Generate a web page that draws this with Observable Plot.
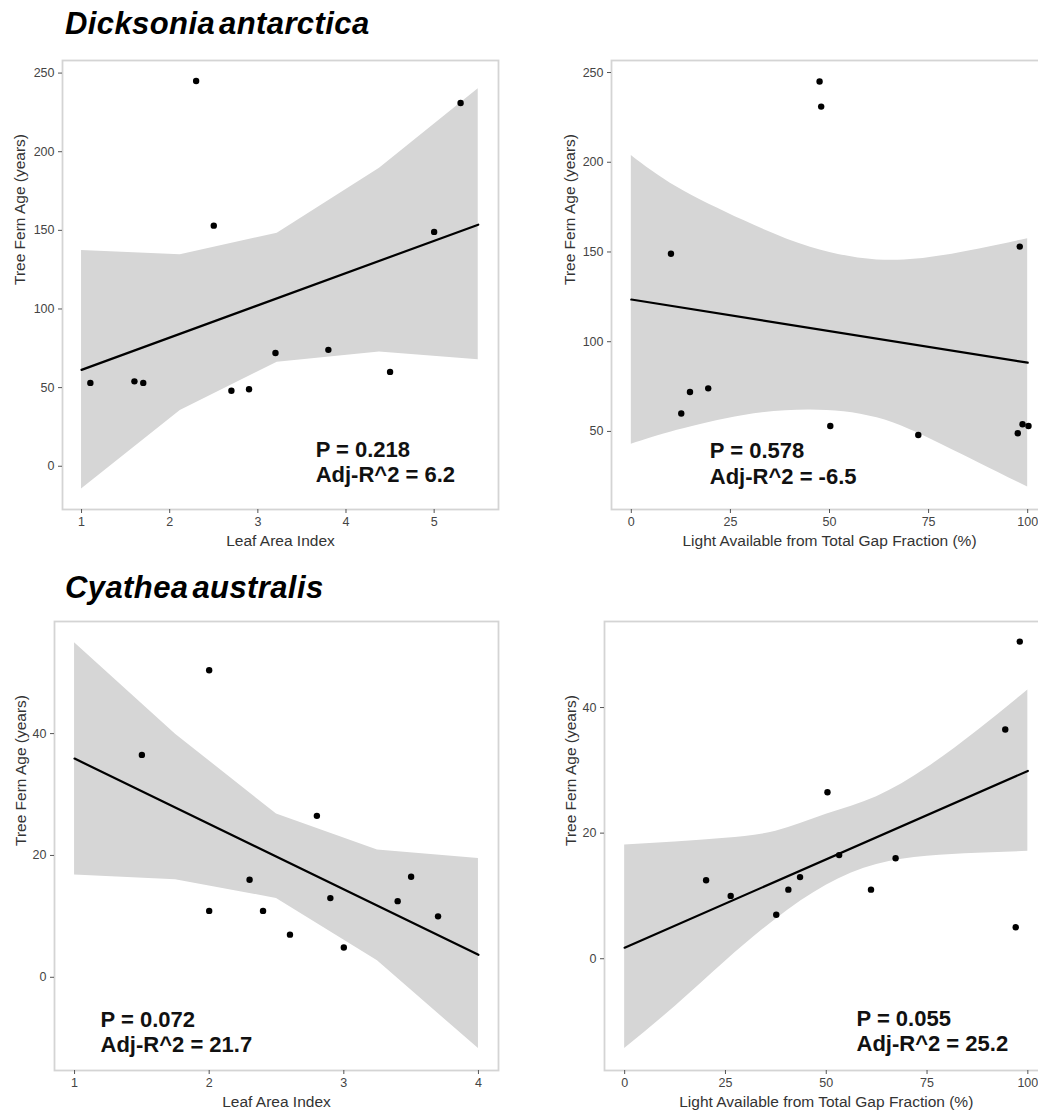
<!DOCTYPE html>
<html><head><meta charset="utf-8">
<script src="https://cdn.jsdelivr.net/npm/d3@7"></script>
<script src="https://cdn.jsdelivr.net/npm/@observablehq/plot@0.6"></script>
<style>
html,body{margin:0;padding:0;background:#fff;overflow:hidden;}
#page{position:relative;width:1038px;height:1113px;overflow:hidden;background:#fff;font-family:"Liberation Sans",Arial,sans-serif;}
.title{position:absolute;left:65px;font-weight:bold;font-style:italic;font-size:31px;letter-spacing:0.4px;word-spacing:-5px;color:#000;line-height:1;white-space:nowrap;}
.panel{position:absolute;}
.panel svg{overflow:visible;max-width:none !important;display:block;}
</style></head><body><div id="page">
<div class="title" style="top:7.7px">Dicksonia antarctica</div>
<div class="title" style="top:572px">Cyathea australis</div>
<div class="panel" id="p1" style="left:0;top:50px;width:520px"></div>
<div class="panel" id="p2" style="left:520px;top:50px;width:540px"></div>
<div class="panel" id="p3" style="left:0;top:611px;width:520px"></div>
<div class="panel" id="p4" style="left:520px;top:611px;width:540px"></div>
</div>
<script>
// ---------- Data ----------
const yLabel = "Tree Fern Age (years)";
const laiLabel = "Leaf Area Index";
const lightLabel = "Light Available from Total Gap Fraction (%)";

// Dicksonia antarctica vs Leaf Area Index
const dickLaiX   = [1.1, 1.6, 1.7, 2.3, 2.5, 2.7, 2.9, 3.2, 3.8, 4.5, 5.0, 5.3];
const dickLaiAge = [53, 54, 53, 245, 153, 48, 49, 72, 74, 60, 149, 231];
const dickLaiFitX = [1, 5.5];
const dickLaiFitY = [61.3, 153.6];
const dickLaiBandX  = [1, 2.12, 3.22, 4.38, 5.5];
const dickLaiBandLo = [-14.4, 35.4, 66.2, 72.6, 67.7];
const dickLaiBandHi = [137.2, 134.5, 148.2, 189.5, 240];
const dickLaiStats = ["P = 0.218", "Adj-R^2 = 6.2"];
const dickLaiXTicks = [1, 2, 3, 4, 5];
const dickYTicks = [0, 50, 100, 150, 200, 250];

// Dicksonia antarctica vs Light
const dickLightX   = [10.0, 12.6, 14.8, 19.4, 47.5, 47.9, 50.2, 72.4, 97.5, 98.0, 98.7, 100.2];
const dickLightAge = [149, 60, 72, 74, 245, 231, 53, 48, 49, 153, 54, 53];
const dickLightFitX = [0, 100];
const dickLightFitY = [123.5, 88.3];
const dickLightBandX  = [0, 11.6, 28.4, 45.2, 62, 78.8, 100];
const dickLightBandLo = [42.8, 50.6, 58.9, 62.0, 57.6, 42.2, 19.0];
const dickLightBandHi = [203.8, 186.1, 167.5, 152.7, 145.6, 148.0, 157.4];
const dickLightStats = ["P = 0.578", "Adj-R^2 = -6.5"];
const dickLightYTicks = [50, 100, 150, 200, 250];
const lightXTicks = [0, 25, 50, 75, 100];

// Cyathea australis vs Leaf Area Index
const cyaLaiX   = [1.5, 2.0, 2.0, 2.3, 2.4, 2.6, 2.8, 2.9, 3.0, 3.4, 3.5, 3.7];
const cyaLaiAge = [36.5, 50.4, 10.9, 16.0, 10.9, 7.0, 26.5, 13.0, 4.9, 12.5, 16.5, 10.0];
const cyaLaiFitX = [1, 4];
const cyaLaiFitY = [35.9, 3.7];
const cyaLaiBandX  = [1, 1.75, 2.5, 3.25, 4];
const cyaLaiBandLo = [16.8, 16.0, 12.95, 2.7, -11.7];
const cyaLaiBandHi = [54.9, 39.9, 26.8, 20.9, 19.5];
const cyaLaiStats = ["P = 0.072", "Adj-R^2 = 21.7"];
const cyaLaiXTicks = [1, 2, 3, 4];
const cyaYTicks = [0, 20, 40];

// Cyathea australis vs Light
const cyaLightX   = [98.0, 94.4, 97.0, 50.3, 20.2, 26.3, 37.6, 40.6, 43.5, 53.2, 67.2, 61.1];
const cyaLightAge = [50.5, 36.5, 5.0, 26.5, 12.5, 10.0, 7.0, 11.0, 13.0, 16.5, 16.0, 11.0];
const cyaLightFitX = [0, 100];
const cyaLightFitY = [1.75, 29.9];
const cyaLightBandX  = [0, 12.5, 25, 37.5, 50, 62.5, 75, 87.5, 100];
const cyaLightBandLo = [-14.3, -7.6, -0.4, 6.3, 11.7, 15.0, 16.3, 16.8, 17.1];
const cyaLightBandHi = [18.1, 18.6, 19.2, 20.3, 23.0, 25.8, 30.4, 36.3, 42.8];
const cyaLightStats = ["P = 0.055", "Adj-R^2 = 25.2"];

// ---------- Drawing ----------
const FONT = "'Liberation Sans', Arial, sans-serif";
function zip2(xs, ys) { return xs.map((x, i) => ({x, y: ys[i]})); }
function zipBand(xs, lo, hi) { return xs.map((x, i) => ({x, lo: lo[i], hi: hi[i]})); }

function panel(cfg) {
  const pts = zip2(cfg.px, cfg.py);
  const fit = zip2(cfg.fx, cfg.fy);
  const band = zipBand(cfg.bx, cfg.blo, cfg.bhi);
  return Plot.plot({
    width: cfg.width, height: cfg.height,
    marginLeft: cfg.ml, marginRight: cfg.mr, marginTop: cfg.mt, marginBottom: cfg.mb,
    x: {domain: cfg.xdomain},
    y: {domain: cfg.ydomain},
    style: {fontFamily: FONT, background: "transparent", overflow: "visible"},
    marks: [
      Plot.areaY(band, {x: "x", y1: "lo", y2: "hi", fill: "#d6d6d6", curve: cfg.curve}),
      Plot.line(fit, {x: "x", y: "y", stroke: "#000", strokeWidth: 2.2}),
      Plot.dot(pts, {x: "x", y: "y", r: 3.2, fill: "#000", stroke: "none"}),
      Plot.frame({stroke: "#d4d4d4", strokeWidth: 1.8}),
      Plot.axisX({ticks: cfg.xticks, tickSize: 4, tickPadding: 4, label: null, fontSize: 12.5, stroke: "#555", fill: "#444", tickFormat: d => String(d)}),
      Plot.axisY({ticks: cfg.yticks, tickSize: 4, tickPadding: 4, label: null, fontSize: 12.5, stroke: "#555", fill: "#444", tickFormat: d => String(d)}),
      Plot.text([cfg.xlabel], {frameAnchor: "bottom", dy: cfg.xdy, fontSize: 15.5, fill: "#333", lineAnchor: "middle"}),
      Plot.text([cfg.ylabel], {frameAnchor: "left", dx: cfg.ydx, rotate: -90, fontSize: 15.5, fill: "#333", lineAnchor: "middle"}),
      Plot.text([cfg.stats.join("\n")], {x: cfg.sx, y: cfg.sy, textAnchor: "start", lineAnchor: "top", fontSize: 22, fontWeight: "bold", fill: "#111", lineHeight: 1.17})
    ]
  });
}

document.getElementById("p1").append(panel({
  width: 520, height: 510, ml: 62, mr: 22, mt: 10, mb: 51,
  xdomain: [0.784, 5.73], ydomain: [-27.5, 258],
  px: dickLaiX, py: dickLaiAge, fx: dickLaiFitX, fy: dickLaiFitY,
  bx: dickLaiBandX, blo: dickLaiBandLo, bhi: dickLaiBandHi, curve: "linear",
  xticks: dickLaiXTicks, yticks: dickYTicks,
  xlabel: laiLabel, ylabel: yLabel, xdy: 32, ydx: -42,
  stats: dickLaiStats, sx: 3.656, sy: 17.8
}));

document.getElementById("p2").append(panel({
  width: 540, height: 510, ml: 91, mr: 13, mt: 10, mb: 51,
  xdomain: [-5, 105], ydomain: [6.5, 256.7],
  px: dickLightX, py: dickLightAge, fx: dickLightFitX, fy: dickLightFitY,
  bx: dickLightBandX, blo: dickLightBandLo, bhi: dickLightBandHi, curve: "natural",
  xticks: lightXTicks, yticks: dickLightYTicks,
  xlabel: lightLabel, ylabel: yLabel, xdy: 32, ydx: -41,
  stats: dickLightStats, sx: 19.8, sy: 45.3
}));

document.getElementById("p3").append(panel({
  width: 520, height: 502, ml: 54, mr: 22, mt: 10, mb: 43,
  xdomain: [0.851, 4.149], ydomain: [-15.3, 58.4],
  px: cyaLaiX, py: cyaLaiAge, fx: cyaLaiFitX, fy: cyaLaiFitY,
  bx: cyaLaiBandX, blo: cyaLaiBandLo, bhi: cyaLaiBandHi, curve: "linear",
  xticks: cyaLaiXTicks, yticks: cyaYTicks,
  xlabel: laiLabel, ylabel: yLabel, xdy: 31.7, ydx: -33,
  stats: cyaLaiStats, sx: 1.193, sy: -5.1
}));

document.getElementById("p4").append(panel({
  width: 540, height: 502, ml: 84, mr: 12.5, mt: 10, mb: 43,
  xdomain: [-5, 105], ydomain: [-17.8, 53.7],
  px: cyaLightX, py: cyaLightAge, fx: cyaLightFitX, fy: cyaLightFitY,
  bx: cyaLightBandX, blo: cyaLightBandLo, bhi: cyaLightBandHi, curve: "natural",
  xticks: lightXTicks, yticks: cyaYTicks,
  xlabel: lightLabel, ylabel: yLabel, xdy: 31.7, ydx: -33,
  stats: cyaLightStats, sx: 57.5, sy: -7.76
}));
</script>
</body></html>
